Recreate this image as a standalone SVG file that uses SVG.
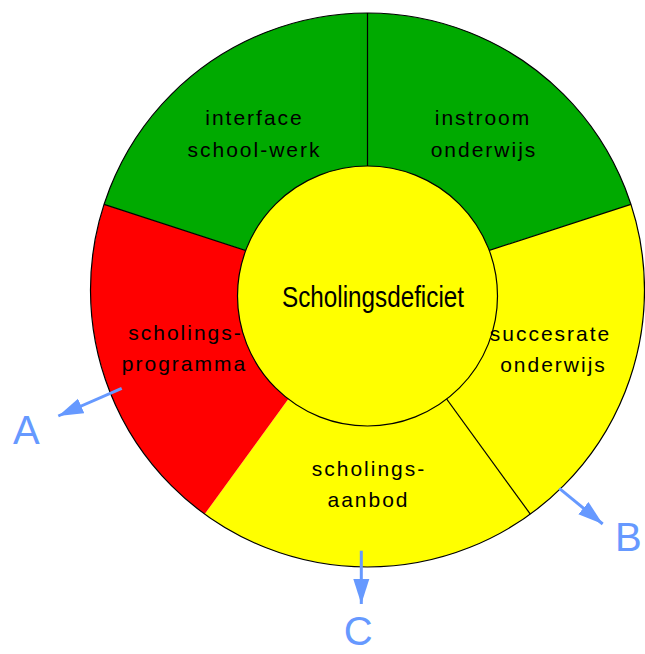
<svg xmlns="http://www.w3.org/2000/svg" width="645" height="654" viewBox="0 0 645 654">
<style>
.seg{stroke:none}
.div{stroke:#000;stroke-width:1.2;fill:none}
.lbl{font-family:"Liberation Sans",Arial,sans-serif;font-size:21px;letter-spacing:2px;fill:#000;text-anchor:middle}
.arr{stroke:#6699ff;stroke-width:3;fill:none;marker-end:url(#ah)}
.let{font-family:"Liberation Sans",Arial,sans-serif;font-size:40px;fill:#6699ff}
</style>
<defs>
<marker id="ah" markerUnits="userSpaceOnUse" markerWidth="26" markerHeight="18" refX="25" refY="8" orient="auto" viewBox="0 0 26 16">
<path d="M0,0 L25,8 L0,16 z" fill="#6699ff"/>
</marker>
</defs>
<rect width="645" height="654" fill="#fff"/>
<g id="seg-instroom">
<path class="seg" fill="#00aa00" d="M367.5,290 L367.5,13 A277,277 0 0 1 630.9,204.4 Z"/>
<text class="lbl" x="483" y="124.5">instroom</text>
<text class="lbl" x="484" y="157">onderwijs</text>
</g>
<g id="seg-succesrate">
<path class="seg" fill="#ffff00" d="M367.5,290 L630.9,204.4 A277,277 0 0 1 530.3,514.1 Z"/>
</g>
<g id="seg-aanbod">
<path class="seg" fill="#ffff00" d="M367.5,290 L530.3,514.1 A277,277 0 0 1 204.7,514.1 Z"/>
<text class="lbl" x="369" y="476">scholings-</text>
<text class="lbl" x="368.5" y="507">aanbod</text>
</g>
<g id="seg-programma">
<path class="seg" fill="#ff0000" d="M367.5,290 L204.7,514.1 A277,277 0 0 1 104.1,204.4 Z"/>
</g>
<g id="seg-interface">
<path class="seg" fill="#00aa00" d="M367.5,290 L104.1,204.4 A277,277 0 0 1 367.5,13 Z"/>
<text class="lbl" x="254.5" y="124.5">interface</text>
<text class="lbl" x="254.5" y="157">school-werk</text>
</g>
<g id="outline">
<circle class="div" cx="367.5" cy="290" r="277"/>
<line class="div" x1="367.5" y1="290" x2="367.5" y2="13"/>
<line class="div" x1="367.5" y1="290" x2="630.9" y2="204.4"/>
<line class="div" x1="367.5" y1="290" x2="530.3" y2="514.1"/>
<line class="div" x1="367.5" y1="290" x2="104.1" y2="204.4"/>
</g>
<g id="center">
<circle cx="367.5" cy="296" r="130" fill="#ffff00" stroke="#000" stroke-width="1.2"/>
<text x="373" y="307" font-family="'Liberation Sans',Arial,sans-serif" font-size="30" text-anchor="middle" textLength="182" lengthAdjust="spacingAndGlyphs">Scholingsdeficiet</text>
</g>
<g id="labels-outer">
<text class="lbl" x="185.5" y="340">scholings-</text>
<text class="lbl" x="184.5" y="371">programma</text>
<text class="lbl" x="550.5" y="340.5">succesrate</text>
<text class="lbl" x="553.5" y="371.5">onderwijs</text>
</g>
<g id="connectors">
<line class="arr" x1="121.7" y1="388.3" x2="58.3" y2="416"/>
<line class="arr" x1="559.3" y1="488.3" x2="602.7" y2="524"/>
<line class="arr" x1="361.3" y1="550.7" x2="361.3" y2="604"/>
</g>
<g id="node-A"><text class="let" x="13" y="444">A</text></g>
<g id="node-B"><text class="let" x="615" y="551">B</text></g>
<g id="node-C"><text class="let" x="358.3" y="645" text-anchor="middle">C</text></g>
</svg>
